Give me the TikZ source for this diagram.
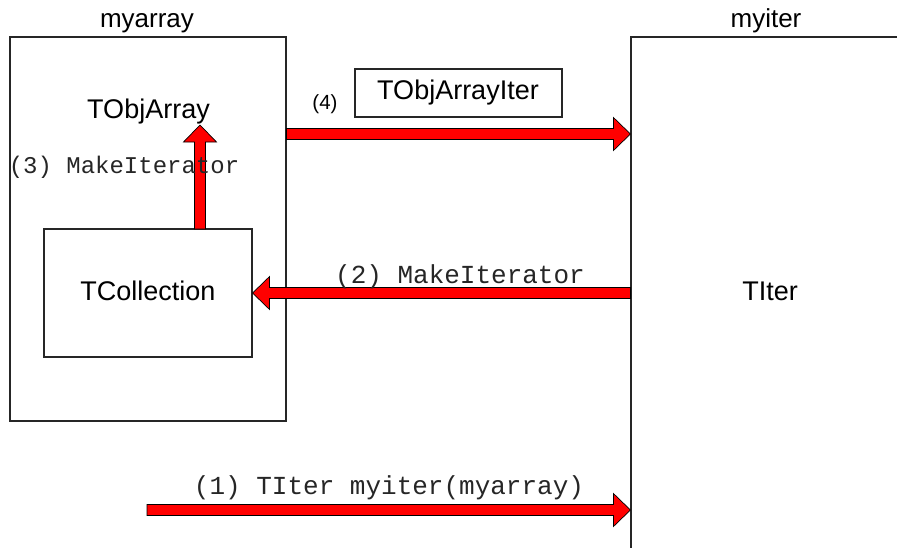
\documentclass[tikz,border=0pt]{standalone}
\usepackage{fontspec}
\setmainfont{Liberation Sans}
\newfontfamily\monof{Liberation Mono}
\usetikzlibrary{calc}
\tikzset{
  box/.style={draw=black!85,line width=1.1pt,inner sep=0pt,fill=none},
  lbl/.style={font=\fontsize{27}{31}\selectfont,anchor=base,inner sep=0pt},
  title/.style={font=\fontsize{26}{30}\selectfont,anchor=base,inner sep=0pt},
  small/.style={font=\fontsize{20.5}{24}\selectfont,anchor=base,inner sep=0pt},
  code/.style={font=\monof\fontsize{26}{30}\selectfont,anchor=base,inner sep=0pt,text=black!85},
  codes/.style={font=\monof\fontsize{24}{28}\selectfont,anchor=base,inner sep=0pt,text=black!85},
  fat/.style={fill=red,draw=black,line width=0.7pt,line join=miter}
}
% #1 start, #2 end (named coordinates), shaft half-width 5.5, head half-width 16.5, head length 17
\newcommand\fatarrow[2]{%
  \filldraw[fat]
    ($(#1)!5.5pt!90:(#2)$) --
    ($($(#2)!17pt!(#1)$)!5.5pt!-90:(#1)$) --
    ($($(#2)!17pt!(#1)$)!16.5pt!-90:(#1)$) --
    (#2) --
    ($($(#2)!17pt!(#1)$)!16.5pt!90:(#1)$) --
    ($($(#2)!17pt!(#1)$)!5.5pt!90:(#1)$) --
    ($(#1)!5.5pt!-90:(#2)$) -- cycle;}
\begin{document}
\begin{tikzpicture}[x=1pt,y=-1pt]
\clip (0,0) rectangle (897,547);
\fill[white] (0,0) rectangle (897,547);
% boxes
\node[box,minimum width=276pt,minimum height=384pt] (arr) at (148,229) {};
\node[box,minimum width=369pt,minimum height=663pt] (iter) at (815.5,368.5) {};
\node[box,minimum width=208pt,minimum height=128pt] (coll) at (148,293) {};
\node[box,minimum width=207pt,minimum height=48pt] (oai) at (458.5,93) {};
% labels
\node[title] (arrname) at (147,27) {myarray};
\node[title] (itername) at (766,27) {myiter};
\node[lbl] (tobj) at (148.5,118) {TObjArray};
\node[lbl] (colltxt) at (148,300) {TCollection};
\node[lbl] (titer) at (770,300) {TIter};
\node[lbl] (oaitxt) at (458,99) {TObjArrayIter};
\node[small] (four) at (325,109) {(4)};
% arrow end points
\coordinate (a4s) at (arr.east |- 0,134);
\coordinate (a4e) at (iter.west |- 0,134);
\coordinate (a2s) at (iter.west |- coll.east);
\coordinate (a2e) at (coll.east);
\coordinate (a3s) at (200,229);
\coordinate (a3e) at (200,125);
\coordinate (a1s) at (147,510);
\coordinate (a1e) at (iter.west |- 0,510);
\fatarrow{a4s}{a4e}
\fatarrow{a2s}{a2e}
\fatarrow{a3s}{a3e}
\fatarrow{a1s}{a1e}
% code labels
\node[codes] (m3) at (124,173) {(3) MakeIterator};
\node[code] (m2) at (460,283) {(2) MakeIterator};
\node[code] (m1) at (389,494) {(1) TIter myiter(myarray)};
\end{tikzpicture}
\end{document}
